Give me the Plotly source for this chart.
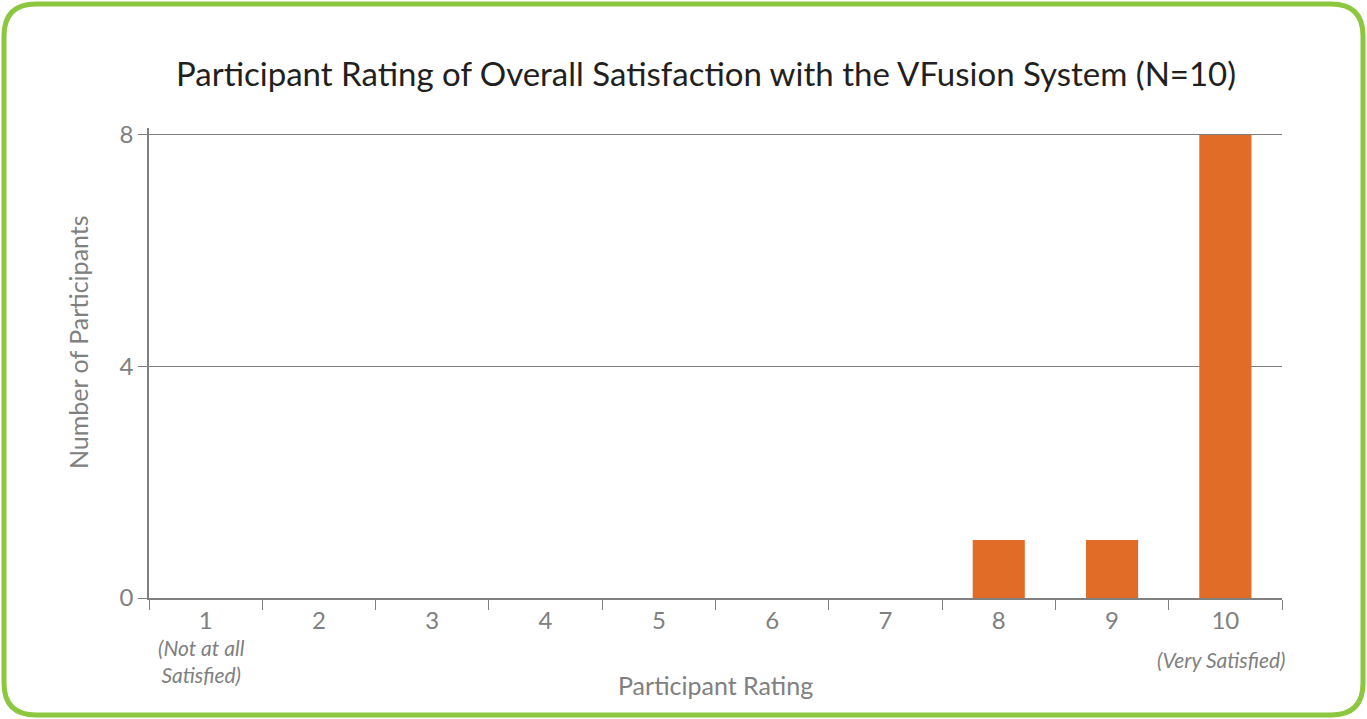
import plotly.graph_objects as go

ratings = ["1", "2", "3", "4", "5", "6", "7", "8", "9", "10"]
counts = [0, 0, 0, 0, 0, 0, 0, 1, 1, 8]
sub_labels = {"1": "(Not at all<br>Satisfied)", "10": "(Very Satisfied)"}
y_ticks = [0, 4, 8]

W, H = 1367, 719
PL, PR, PT, PB = 149, 1282, 128, 598  # plot area in page pixels
L, R, T, B = PL, W - PR, PT, H - PB
pw, ph = W - L - R, H - T - B


def px(x):
    return (x - L) / pw


def py(y):
    return (H - B - y) / ph


gray = "#808080"
fig = go.Figure()
fig.add_trace(go.Bar(x=ratings, y=counts, marker=dict(color="#e06c27", line=dict(width=0)),
                     width=0.46, hoverinfo="x+y"))

fig.update_layout(
    width=W, height=H,
    paper_bgcolor="white", plot_bgcolor="white",
    margin=dict(l=L, r=R, t=T, b=B, autoexpand=False),
    font=dict(family="Lato, 'Open Sans', sans-serif", color=gray),
    showlegend=False,
)
fig.update_xaxes(
    type="category", categoryorder="array", categoryarray=ratings,
    range=[-0.5, len(ratings) - 0.5],
    tickvals=ratings, ticktext=ratings, tickangle=0,
    tickson="boundaries", ticks="outside", ticklen=10, tickcolor=gray, tickwidth=1.3,
    showline=True, linecolor=gray, linewidth=1.5,
    showgrid=False, tickfont=dict(size=24, color=gray),
)
fig.update_yaxes(
    range=[0, 8.12], tickvals=y_ticks, ticks="outside", ticklen=9, tickcolor=gray, tickwidth=1.3,
    showline=True, linecolor=gray, linewidth=1.5,
    showgrid=True, gridcolor=gray, gridwidth=1.3, zeroline=False,
    tickfont=dict(size=24, color=gray),
)

# italic sub-labels under the end categories
sub_y = {"1": 661, "10": 659}
for cat, text in sub_labels.items():
    fig.add_annotation(text=f"<i>{text}</i>", xref="x", yref="paper", x=ratings.index(cat),
                       y=py(sub_y[cat]), xshift=-4, showarrow=False, xanchor="center",
                       yanchor="middle", borderpad=0, font=dict(size=21, color=gray))

# titles as annotations
fig.add_annotation(text="Participant Rating of Overall Satisfaction with the VFusion System (N=10)",
                   xref="paper", yref="paper", x=px(706), y=py(73), showarrow=False,
                   xanchor="center", yanchor="middle", font=dict(size=33, color="#231f20"))
fig.add_annotation(text="Participant Rating", xref="paper", yref="paper", x=px(715), y=py(685),
                   showarrow=False, xanchor="center", yanchor="middle",
                   font=dict(size=25, color=gray))
fig.add_annotation(text="Number of Participants", xref="paper", yref="paper", x=px(78), y=py(342),
                   showarrow=False, xanchor="center", yanchor="middle", textangle=-90,
                   font=dict(size=25, color=gray))

# rounded green frame
x0, y0, x1, y1, rr = 4, 4, 1363, 715, 32
path = (f"M {px(x0+rr)},{py(y0)} L {px(x1-rr)},{py(y0)} Q {px(x1)},{py(y0)} {px(x1)},{py(y0+rr)} "
        f"L {px(x1)},{py(y1-rr)} Q {px(x1)},{py(y1)} {px(x1-rr)},{py(y1)} "
        f"L {px(x0+rr)},{py(y1)} Q {px(x0)},{py(y1)} {px(x0)},{py(y1-rr)} "
        f"L {px(x0)},{py(y0+rr)} Q {px(x0)},{py(y0)} {px(x0+rr)},{py(y0)} Z")
fig.add_shape(type="path", xref="paper", yref="paper", path=path,
              line=dict(color="#8dc63f", width=5), fillcolor="rgba(0,0,0,0)", layer="above")

fig.write_html("out.html", config={"displayModeBar": False},
               post_script="document.body.style.margin='0';document.body.style.overflow='hidden';")
